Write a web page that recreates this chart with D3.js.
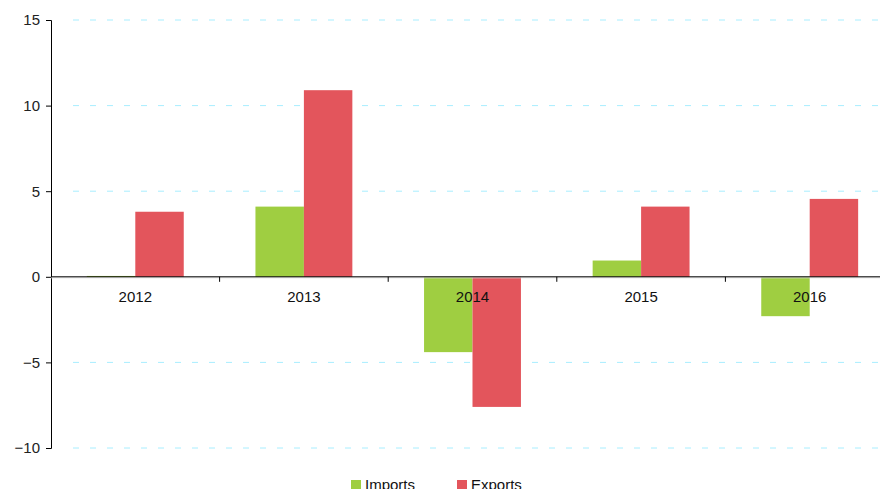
<!DOCTYPE html>
<html>
<head>
<meta charset="utf-8">
<script src="https://cdn.jsdelivr.net/npm/d3@7"></script>
<style>
  body { margin: 0; background: #fff; overflow: hidden; }
  text { font-family: "Liberation Sans", Arial, sans-serif; }
</style>
</head>
<body>
<script>
// data
var years = ['2012', '2013', '2014', '2015', '2016'];
var imports = [0.05, 4.1, -4.4, 0.95, -2.3];
var exports = [3.8, 10.9, -7.6, 4.1, 4.55];
var seriesNames = ['Imports', 'Exports'];
var seriesColors = ['#9fce41', '#e3555c'];
var yTicks = [15, 10, 5, 0, -5, -10];

var w = 880, h = 489;
var svg = d3.select('body').append('svg').attr('width', w).attr('height', h);

// plot box (note: "top" is reserved on window)
var padL = 51, padR = 894, padT = 20, padB = 448;

var x = d3.scaleBand().domain(years).range([padL, padR]);
var xs = d3.scaleBand().domain(seriesNames).range([0, x.bandwidth()]).paddingInner(0).paddingOuter(0.74);
var y = d3.scaleLinear().domain([-10, 15]).range([padB, padT]);

// grid lines
svg.append('g').selectAll('line')
  .data(yTicks.filter(function(d){ return d !== 0; }))
  .enter().append('line')
  .attr('x1', padL + 22).attr('x2', w)
  .attr('y1', function(d){ return y(d); })
  .attr('y2', function(d){ return y(d); })
  .attr('stroke', '#a8eeff')
  .attr('stroke-width', 1)
  .attr('stroke-dasharray', '6,11');

// bars
var rows = years.map(function(yr, i){ return {year: yr, vals: [imports[i], exports[i]]}; });
var groups = svg.append('g').selectAll('g')
  .data(rows).enter().append('g')
  .attr('transform', function(d){ return 'translate(' + x(d.year) + ',0)'; });

groups.selectAll('rect')
  .data(function(d){ return d.vals.map(function(v, j){ return {v: v, s: seriesNames[j], c: seriesColors[j]}; }); })
  .enter().append('rect')
  .attr('x', function(d){ return xs(d.s); })
  .attr('width', xs.bandwidth())
  .attr('y', function(d){ return y(Math.max(0, d.v)); })
  .attr('height', function(d){ return Math.max(1, Math.abs(y(d.v) - y(0))); })
  .attr('fill', function(d){ return d.c; });

// y axis
var yAxis = d3.axisLeft(y).tickValues(yTicks).tickSize(5).tickPadding(6).tickFormat(d3.format('d'));
var ya = svg.append('g').attr('transform', 'translate(' + padL + ',0)').call(yAxis);
ya.select('.domain').attr('stroke', '#000');
ya.selectAll('.tick line').attr('stroke', '#000');
ya.selectAll('.tick text').attr('font-size', 15).attr('fill', '#222')
  .style('font-family', '"Liberation Sans", Arial, sans-serif');

// zero line + category ticks
svg.append('line')
  .attr('x1', padL).attr('x2', w)
  .attr('y1', y(0) + 1).attr('y2', y(0) + 1)
  .attr('stroke', '#ddd').attr('stroke-width', 1);
svg.append('line')
  .attr('x1', padL).attr('x2', w)
  .attr('y1', y(0)).attr('y2', y(0))
  .attr('stroke', '#000').attr('stroke-width', 1);

svg.append('g').selectAll('line')
  .data(years.slice(1)).enter().append('line')
  .attr('x1', function(d){ return x(d); }).attr('x2', function(d){ return x(d); })
  .attr('y1', y(0)).attr('y2', y(0) + 5)
  .attr('stroke', '#000');

svg.append('g').selectAll('text')
  .data(years).enter().append('text')
  .attr('x', function(d){ return x(d) + x.bandwidth() / 2; })
  .attr('y', y(0) + 25)
  .attr('text-anchor', 'middle')
  .attr('font-size', 15)
  .attr('fill', '#111')
  .text(function(d){ return d; });

// legend
var legX = [351, 457];
var leg = svg.append('g').selectAll('g')
  .data(seriesNames).enter().append('g')
  .attr('transform', function(d, i){ return 'translate(' + legX[i] + ',480)'; });
leg.append('rect').attr('width', 10).attr('height', 10).attr('fill', function(d, i){ return seriesColors[i]; });
leg.append('text').attr('x', 14).attr('y', 10).attr('font-size', 15).attr('fill', '#111')
  .text(function(d){ return d; });
</script>
</body>
</html>
